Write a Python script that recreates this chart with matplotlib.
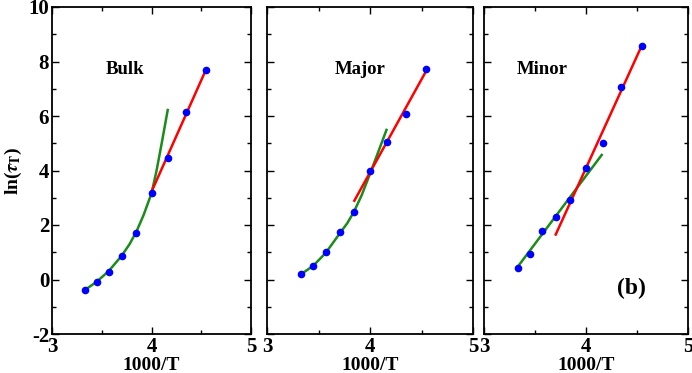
import matplotlib
matplotlib.use('Agg')
import matplotlib.pyplot as plt
from matplotlib.ticker import MultipleLocator

plt.rcParams['font.family'] = ['Liberation Serif', 'DejaVu Serif']
plt.rcParams['font.weight'] = 'bold'
plt.rcParams['mathtext.fontset'] = 'stix'
plt.rcParams['axes.unicode_minus'] = False

# 1000/T values (T = 300 ... 220 K)
x_pts = [3.333, 3.448, 3.571, 3.704, 3.846, 4.000, 4.167, 4.348, 4.545]

bulk_y = [-0.38, -0.11, 0.27, 0.86, 1.72, 3.16, 4.47, 6.15, 7.68]
major_y = [0.20, 0.51, 1.00, 1.73, 2.47, 3.98, 5.03, 6.09, 7.72]
minor_y = [0.43, 0.92, 1.78, 2.28, 2.93, 4.10, 5.01, 7.06, 8.57]

# fitted curves (high-T: green, low-T: red)
bulk_green_x = [3.333, 3.45, 3.57, 3.70, 3.78, 3.85, 3.92, 4.00, 4.05, 4.10, 4.163]
bulk_green_y = [-0.38, -0.08, 0.31, 0.87, 1.30, 1.77, 2.36, 3.16, 3.98, 4.95, 6.22]
bulk_red_x = [4.0, 4.545]
bulk_red_y = [3.22, 7.68]

major_green_x = [3.333, 3.448, 3.571, 3.704, 3.78, 3.846, 3.92, 4.00, 4.08, 4.16]
major_green_y = [0.20, 0.50, 0.98, 1.68, 2.07, 2.50, 3.10, 3.88, 4.68, 5.49]
major_red_x = [3.848, 4.545]
major_red_y = [2.89, 7.65]

minor_green_x = [3.333, 4.154]
minor_green_y = [0.48, 4.57]
minor_red_x = [3.703, 4.545]
minor_red_y = [1.65, 8.57]

labels = ['Bulk', 'Major', 'Minor']
label_x = [3.54, 3.66, 3.32]

fig = plt.figure(figsize=(6.92, 3.73), dpi=100)
rects = [[52 / 692, 39 / 373, 199 / 692, 327 / 373],
         [267 / 692, 39 / 373, 206 / 692, 327 / 373],
         [484 / 692, 39 / 373, 204 / 692, 327 / 373]]

data = [
    (bulk_y, bulk_green_x, bulk_green_y, bulk_red_x, bulk_red_y),
    (major_y, major_green_x, major_green_y, major_red_x, major_red_y),
    (minor_y, minor_green_x, minor_green_y, minor_red_x, minor_red_y),
]

green = '#1a8c1a'
for i, (rect, d) in enumerate(zip(rects, data)):
    ys, gx, gy, rx, ry = d
    ax = fig.add_axes(rect)
    ax.plot(gx, gy, color=green, lw=1.8, zorder=2)
    ax.plot(rx, ry, color='red', lw=1.8, zorder=2)
    ax.plot(x_pts, ys, 'o', color='#0000ff', ms=5.5, mec='none', zorder=3)
    ax.set_xlim(3, 5)
    ax.set_ylim(-2, 10)
    ax.xaxis.set_major_locator(MultipleLocator(1))
    ax.xaxis.set_minor_locator(MultipleLocator(0.5))
    ax.yaxis.set_major_locator(MultipleLocator(2))
    ax.yaxis.set_minor_locator(MultipleLocator(1))
    ax.tick_params(which='both', direction='in', top=True, right=True,
                   labelsize=15, width=1.0)
    ax.tick_params(which='major', length=5)
    ax.tick_params(which='minor', length=3)
    ax.tick_params(axis='x', pad=2)
    ax.tick_params(axis='y', pad=2)
    for s in ax.spines.values():
        s.set_linewidth(1.3)
    ax.set_xlabel('1000/T', fontsize=14, fontweight='bold', labelpad=0)
    if i == 0:
        ax.set_ylabel(r'ln($\tau_{\rm T}$)', fontsize=14, fontweight='bold', labelpad=3)
    else:
        ax.set_yticklabels([])
    for lab in ax.get_xticklabels() + ax.get_yticklabels():
        lab.set_fontweight('bold')
    ax.text(label_x[i], 7.7, labels[i], fontsize=13.5, fontweight='bold', va='center')
    if i == 2:
        ax.text(4.30, -0.34, '(b)', fontsize=17, fontweight='bold', va='center')

fig.savefig('out.png', dpi=100)
